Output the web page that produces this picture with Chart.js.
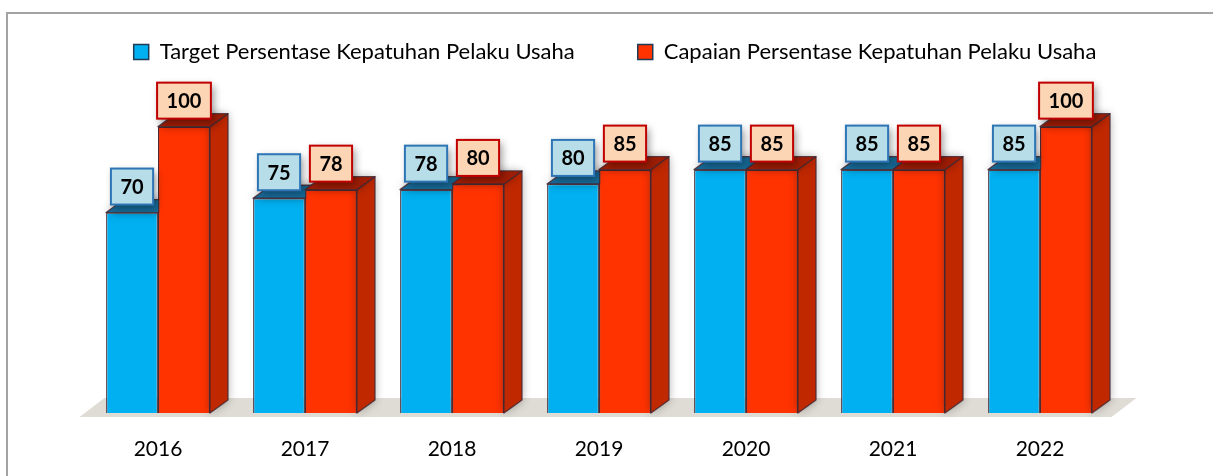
<!DOCTYPE html>
<html>
<head>
<meta charset="utf-8">
<script src="https://cdn.jsdelivr.net/npm/chart.js@4.4.1/dist/chart.umd.min.js"></script>
<style>
  html, body { margin: 0; padding: 0; background: #fff; overflow: hidden; }
  #wrap { position: relative; width: 1213px; height: 476px; }
  #frame { position: absolute; left: 6px; top: 12px; width: 1300px; height: 600px;
           border-left: 2px solid #a3a3a3; border-top: 2px solid #a3a3a3; }
  canvas { position: absolute; left: 0; top: 0; }
</style>
</head>
<body>
<div id="wrap">
  <div id="frame"></div>
  <canvas id="chart" width="1213" height="476"></canvas>
</div>
<script>
const years = ['2016', '2017', '2018', '2019', '2020', '2021', '2022'];
const targetValues = [70, 75, 78, 80, 85, 85, 85];
const capaianValues = [100, 78, 80, 85, 85, 85, 100];
const seriesNames = ['Target Persentase Kepatuhan Pelaku Usaha', 'Capaian Persentase Kepatuhan Pelaku Usaha'];

const FONT = 'Lato';
const DX = 18, DY = 13;   // depth of the fake 3d bars
const looks = [
    { front: '#00b0f0', top: '#176b99', side: '#0b6a9a', boxFill: '#b7dde8', boxLine: '#2e75b6' },
    { front: '#ff3300', top: '#9e1d05', side: '#c02800', boxFill: '#fcd5b5', boxLine: '#c00000' }
];
const EDGE = 'rgba(70,40,50,0.85)';

function poly(ctx, pts, fill) {
    ctx.beginPath();
    ctx.moveTo(pts[0][0], pts[0][1]);
    for (let i = 1; i < pts.length; i++) ctx.lineTo(pts[i][0], pts[i][1]);
    ctx.closePath();
    ctx.fillStyle = fill;
    ctx.fill();
    ctx.shadowColor = 'transparent';
    ctx.lineWidth = 1.3;
    ctx.strokeStyle = EDGE;
    ctx.stroke();
}

function topFace(ctx, bar, look, withSide) {
    const {x, y, base, width} = bar.getProps(['x', 'y', 'base', 'width'], true);
    const l = x - width / 2, r = x + width / 2;
    ctx.save();
    ctx.lineJoin = 'round';
    if (withSide) {
        ctx.shadowColor = 'rgba(0,0,0,0.35)';
        ctx.shadowBlur = 10;
        poly(ctx, [[r, y], [r + DX, y - DY], [r + DX, base - DY], [r, base]], look.side);
    }
    ctx.shadowColor = 'rgba(0,0,0,0.35)';
    ctx.shadowBlur = 10;
    poly(ctx, [[l, y], [r, y], [r + DX, y - DY], [l + DX, y - DY]], look.top);
    ctx.restore();
}

const bars3d = {
    id: 'bars3d',
    beforeInit(chart) {
        const lg = chart.legend;
        const fit = lg.fit;
        lg.fit = function () {
            this.maxWidth = 1213;   // keep both entries on one row
            fit.call(this);
            this.height = 120;
        };
        const draw = lg.draw;
        lg.draw = function () {
            const l = this.left, r = this.right;
            this.left = l - 80;
            this.right = r + 80;
            this.ctx.save();
            this.ctx.translate(16, 0);
            draw.call(this);
            this.ctx.restore();
            this.left = l;
            this.right = r;
        };
    },
    beforeDatasetsDraw(chart) {
        const {ctx, chartArea: a} = chart;
        ctx.save();
        ctx.beginPath();
        ctx.moveTo(a.left - 5, a.bottom + 4);
        ctx.lineTo(a.right - 2, a.bottom + 4);
        ctx.lineTo(a.right + 23, a.bottom - 15);
        ctx.lineTo(a.left + 20, a.bottom - 15);
        ctx.closePath();
        ctx.fillStyle = '#dfdcd5';
        ctx.fill();
        ctx.restore();
    },
    afterDatasetsDraw(chart) {
        const ctx = chart.ctx;
        const blue = chart.getDatasetMeta(0).data;
        const red = chart.getDatasetMeta(1).data;
        // paint back to front: blue top, then red front, red side and top
        blue.forEach((b, j) => {
            topFace(ctx, b, looks[0], false);
            red[j].draw(ctx);
            topFace(ctx, red[j], looks[1], true);
        });

        ctx.save();
        ctx.font = 'bold 20px ' + FONT;
        ctx.textAlign = 'center';
        ctx.textBaseline = 'middle';
        chart.data.datasets.forEach((ds, i) => {
            const look = looks[i];
            chart.getDatasetMeta(i).data.forEach((bar, j) => {
                const {x, y} = bar.getProps(['x', 'y'], true);
                const txt = String(ds.data[j]);
                const w = ctx.measureText(txt).width + 19;
                const h = 36;
                const bx = x - w / 2, by = y - 8 - h;
                ctx.save();
                ctx.shadowColor = 'rgba(0,0,0,0.4)';
                ctx.shadowBlur = 8;
                ctx.shadowOffsetX = 3;
                ctx.shadowOffsetY = 3;
                ctx.fillStyle = look.boxFill;
                ctx.fillRect(bx, by, w, h);
                ctx.restore();
                ctx.lineWidth = 2;
                ctx.strokeStyle = look.boxLine;
                ctx.strokeRect(bx, by, w, h);
                ctx.fillStyle = '#000';
                ctx.fillText(txt, x, by + h / 2 + 1);
            });
        });
        ctx.restore();
    }
};

new Chart(document.getElementById('chart'), {
    type: 'bar',
    data: {
        labels: years,
        datasets: [
            {
                label: seriesNames[0],
                data: targetValues,
                backgroundColor: looks[0].front,
                borderColor: EDGE,
                borderWidth: 1.3,
                categoryPercentage: 0.707,
                barPercentage: 1
            },
            {
                label: seriesNames[1],
                data: capaianValues,
                backgroundColor: looks[1].front,
                borderColor: EDGE,
                borderWidth: 1.3,
                categoryPercentage: 0.707,
                barPercentage: 1
            }
        ]
    },
    options: {
        responsive: false,
        animation: false,
        layout: {
            padding: { left: 84.5, right: 99.5, top: -22, bottom: 0 }
        },
        plugins: {
            legend: {
                display: true,
                position: 'top',
                labels: {
                    color: '#000',
                    boxWidth: 15,
                    boxHeight: 15,
                    padding: 63,
                    font: { family: FONT, size: 22 },
                    generateLabels(chart) {
                        return chart.data.datasets.map((ds, i) => ({
                            text: ds.label,
                            fillStyle: looks[i].front,
                            strokeStyle: '#1f3a55',
                            lineWidth: 1.5,
                            datasetIndex: i,
                            hidden: false
                        }));
                    }
                }
            },
            tooltip: { enabled: false }
        },
        scales: {
            x: {
                grid: { display: false, drawTicks: false },
                border: { display: false },
                ticks: {
                    color: '#000',
                    padding: 24,
                    font: { family: FONT, size: 21 }
                },
                afterFit(scale) {
                    scale.height = 63;
                }
            },
            y: {
                display: false,
                min: 0,
                max: 110
            }
        }
    },
    plugins: [bars3d]
});
</script>
</body>
</html>
